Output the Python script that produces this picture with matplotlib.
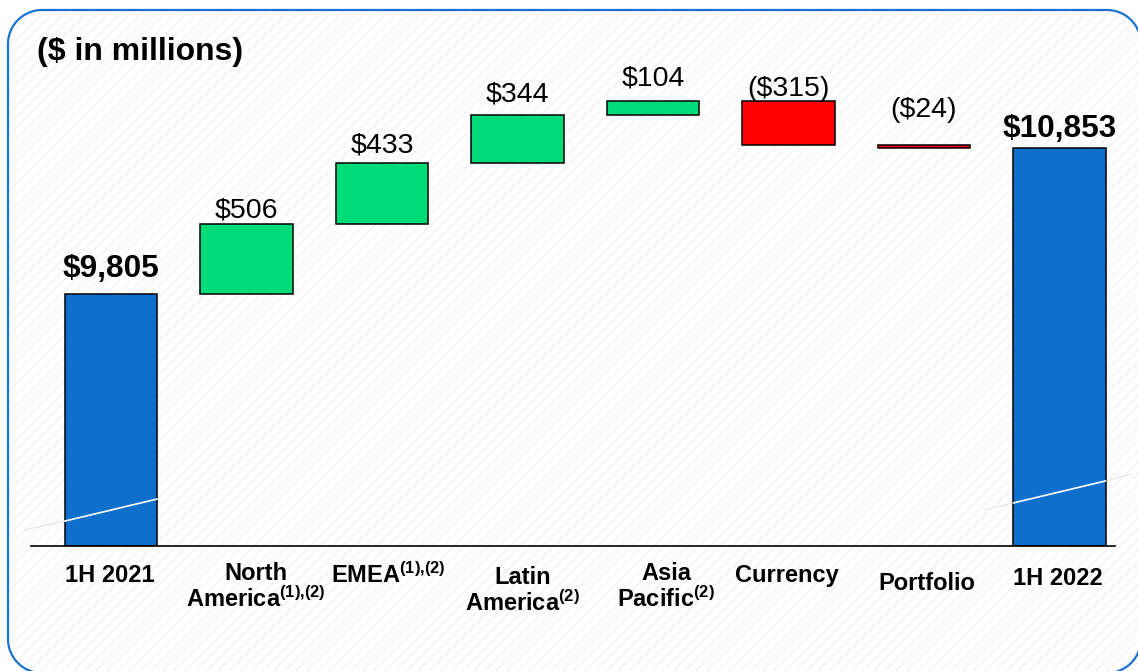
import numpy as np
import matplotlib
matplotlib.use("Agg")
import matplotlib.pyplot as plt
from matplotlib.patches import Polygon

plt.rcParams['font.family'] = ['Liberation Sans', 'DejaVu Sans']
plt.rcParams['mathtext.fontset'] = 'custom'
plt.rcParams['mathtext.rm'] = 'Liberation Sans:bold'
plt.rcParams['mathtext.bf'] = 'Liberation Sans:bold'
plt.rcParams['mathtext.it'] = 'Liberation Sans:bold'
plt.rcParams['hatch.linewidth'] = 0.6

# sales bridge, $ in millions
line1 = ['1H 2021', 'North', 'EMEA', 'Latin', 'Asia', 'Currency', 'Portfolio', '1H 2022']
line2 = ['', 'America', '', 'America', 'Pacific', '', '', '']
notes = ['', '(1){,}(2)', '(1){,}(2)', '(2)', '(2)', '', '', '']
values = [9805, 506, 433, 344, 104, -315, -24, 10853]
is_total = [True, False, False, False, False, False, False, True]

BLUE = '#0f6fcc'
GREEN = '#00db7a'
RED = '#ff0000'
FRAME = '#1a73d0'

W, H = 1138, 671
fig = plt.figure(figsize=(W / 100, H / 100), dpi=100)


def rounded_rect(x0, y0, x1, y1, r, n=24):
    """Outline of a rounded rectangle as a plain polygon."""
    pts = []
    corners = [(x1 - r, y1 - r, 0), (x0 + r, y1 - r, 90),
               (x0 + r, y0 + r, 180), (x1 - r, y0 + r, 270)]
    for cx, cy, a in corners:
        t = np.radians(np.linspace(a, a + 90, n))
        pts.extend(zip(cx + r * np.cos(t), cy + r * np.sin(t)))
    return np.array(pts)


# backdrop: hatched panel inside a rounded blue frame (pixel coordinates, y up)
bg = fig.add_axes([0, 0, 1, 1], zorder=0)
bg.set_xlim(0, W)
bg.set_ylim(0, H)
bg.axis('off')
outline = rounded_rect(8, H - 673, 1141, H - 10, 34)
bg.add_patch(Polygon(outline, closed=True, facecolor='white', edgecolor='#ebebeb',
                     lw=0, hatch='///'))
bg.add_patch(Polygon(outline, closed=True, facecolor='none', edgecolor=FRAME, lw=1.6))

# main axes, y axis broken so it starts near 8,000
y0, y1 = 7996, 11772
ax_l, ax_r, ax_b, ax_t = 31, 1115, 546, 20
ax = fig.add_axes([ax_l / W, 1 - ax_b / H, (ax_r - ax_l) / W, (ax_b - ax_t) / H], zorder=1)
ax.patch.set_alpha(0)
x = np.arange(len(values))
ax.set_xlim(-0.59, 7.41)
ax.set_ylim(y0, y1)
for s in ['top', 'right', 'left']:
    ax.spines[s].set_visible(False)
ax.spines['bottom'].set_linewidth(1.2)
ax.set_xticks([])
ax.set_yticks([])

# waterfall bars
bottoms, heights, colors = [], [], []
running = 0
for v, tot in zip(values, is_total):
    if tot:
        bottoms.append(y0)
        heights.append(v - y0)
        colors.append(BLUE)
        running = v
    else:
        lo = running if v > 0 else running + v
        bottoms.append(lo)
        heights.append(abs(v))
        colors.append(GREEN if v > 0 else RED)
        running += v
ax.bar(x, heights, bottom=bottoms, width=0.68, color=colors,
       edgecolor='black', linewidth=1.1, zorder=2)

# break marks across the total bars
ax.plot([-0.34, 0.34], [8175, 8333], color='white', lw=1.2, zorder=3)
ax.plot([-0.64, -0.34], [8110, 8175], color='#e6e6e6', lw=0.9, zorder=1, clip_on=False)
ax.plot([6.66, 7.34], [8305, 8463], color='white', lw=1.2, zorder=3)
ax.plot([6.45, 6.66], [8255, 8305], color='#e6e6e6', lw=0.9, zorder=1, clip_on=False)
ax.plot([7.34, 7.53], [8463, 8513], color='#e6e6e6', lw=0.9, zorder=1, clip_on=False)

# value labels above each bar (gap in px)
gaps = [17, 6, 11, 14, 15, 5, 28, 11]
for i, (v, tot) in enumerate(zip(values, is_total)):
    top = bottoms[i] + heights[i]
    if tot:
        txt, kw = f'${v:,}', dict(fontsize=22.7, fontweight='bold')
    elif v > 0:
        txt, kw = f'${v:,}', dict(fontsize=20.5)
    else:
        txt, kw = f'(${-v:,})', dict(fontsize=20.5)
    ax.annotate(txt, (i, top), xytext=(0, gaps[i] * 0.72), textcoords='offset points',
                ha='center', va='baseline', zorder=4, **kw)

# category labels under the axis (nudges in px)
dx = [-1, 9, 6, 5, 13, -2, 3, -2]
dy = [18, 16, 16, 20, 16, 18, 26, 21]
for i in range(len(values)):
    first = line1[i]
    second = line2[i]
    if notes[i]:
        sup = '$^{\\mathregular{' + notes[i] + '}}$'
        if second:
            second = second + sup
        else:
            first = first + sup
    txt = first if not second else first + '\n' + second
    ax.annotate(txt, (i, y0), xytext=(dx[i] * 0.72, -dy[i] * 0.72),
                textcoords='offset points', ha='center', va='top',
                fontsize=17, fontweight='bold', linespacing=1.05,
                annotation_clip=False)

fig.text(37 / W, 1 - 52 / H, '($ in millions)', fontsize=23, fontweight='bold',
         ha='left', va='center')

fig.savefig('out.png', dpi=100)
